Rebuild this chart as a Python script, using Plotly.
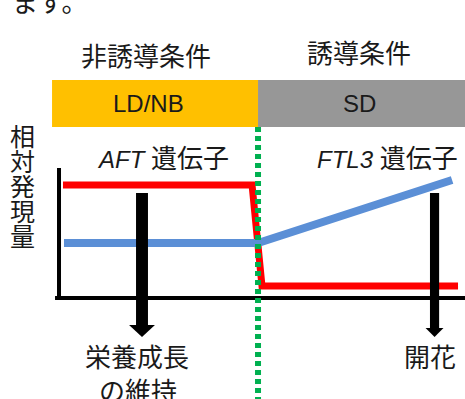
import plotly.graph_objects as go

# expression levels (relative units) over time, switch of daylength at t = 10
aft_time = [0.2, 9.7, 10.2, 20.05]
aft_level = [5.65, 5.65, 0.6, 0.6]
ftl3_time = [0.25, 10.0, 19.75]
ftl3_level = [2.75, 2.75, 5.9]

switch_time = 10.0
conditions = ['非誘導条件', '誘導条件']
photoperiods = ['LD/NB', 'SD']
gene_names = ['AFT', 'FTL3']
outcomes = ['栄養成長', '開花']
ylabel = '相対発現量'

FONT = 'Liberation Sans, Arial, Noto Sans CJK JP, sans-serif'
TXT = '#1a1a1a'

fig = go.Figure()
fig.add_trace(go.Scatter(x=aft_time, y=aft_level, mode='lines',
                         line=dict(color='#ff0000', width=7), hoverinfo='skip'))
fig.add_trace(go.Scatter(x=ftl3_time, y=ftl3_level, mode='lines',
                         line=dict(color='#5b8fd6', width=8), hoverinfo='skip'))

# axes drawn as plain lines
fig.add_shape(type='line', x0=0, x1=0, y0=-0.1, y1=6.5, line=dict(color='black', width=4))
fig.add_shape(type='line', x0=-0.2, x1=20.4, y0=0, y1=0, line=dict(color='black', width=4))

# condition header bars
fig.add_shape(type='rect', x0=-0.35, x1=switch_time, y0=8.55, y1=10.9,
              fillcolor='#ffc000', line_width=0, layer='below')
fig.add_shape(type='rect', x0=switch_time, x1=20.5, y0=8.55, y1=10.9,
              fillcolor='#979797', line_width=0, layer='below')

# switch line
fig.add_shape(type='line', x0=switch_time, x1=switch_time, y0=8.55, y1=-5.1,
              line=dict(color='#00b050', width=6, dash='5px,4px'), layer='above')


def arrow(xc, shaft, head, y_top, y_neck, y_tip):
    fig.add_shape(type='rect', x0=xc - shaft, x1=xc + shaft, y0=y_neck, y1=y_top,
                  fillcolor='black', line_width=0, layer='above')
    fig.add_shape(type='path', fillcolor='black', line_width=0, layer='above',
                  path=f'M {xc - head},{y_neck} L {xc + head},{y_neck} L {xc},{y_tip} Z')


arrow(4.17, 0.3, 0.65, 5.25, -1.35, -1.95)
arrow(18.87, 0.23, 0.45, 5.25, -1.5, -1.95)


def note(txt, x, y, size=26, anchor='center', **kw):
    fig.add_annotation(x=x, y=y, text=txt, showarrow=False, xanchor=anchor,
                       yanchor='middle', font=dict(family=FONT, size=size, color=TXT), **kw)


def gene(name, x, y):
    note(f'<i>{name}</i> <span style="font-size:26px">遺伝子</span>', x, y, size=24)


note('ます。', -2.46, 14.75, anchor='left')
note(conditions[0], 4.37, 12.05)
note(conditions[1], 15.08, 12.2)
note(photoperiods[0], 4.52, 9.72, size=24)
note(photoperiods[1], 15.1, 9.72, size=24)
gene(gene_names[0], 5.2, 6.95)
gene(gene_names[1], 16.53, 6.95)
note(outcomes[0], 3.92, -3.0)
note('の維持', 3.97, -4.7)
note(outcomes[1], 18.64, -3.0)
# vertical axis title, one character per row
for i, ch in enumerate(ylabel):
    note(ch, -1.83, 8.05 - 1.25 * i, size=25, height=24, borderpad=0)

fig.update_layout(
    width=465, height=399,
    margin=dict(l=0, r=0, t=0, b=0),
    paper_bgcolor='white', plot_bgcolor='white',
    showlegend=False,
    xaxis=dict(range=[-2.965, 20.40], visible=False, fixedrange=True),
    yaxis=dict(range=[-5.05, 14.9], visible=False, fixedrange=True),
)
fig.write_html('out.html', config={'displayModeBar': False},
               post_script="document.body.style.margin='0';")
